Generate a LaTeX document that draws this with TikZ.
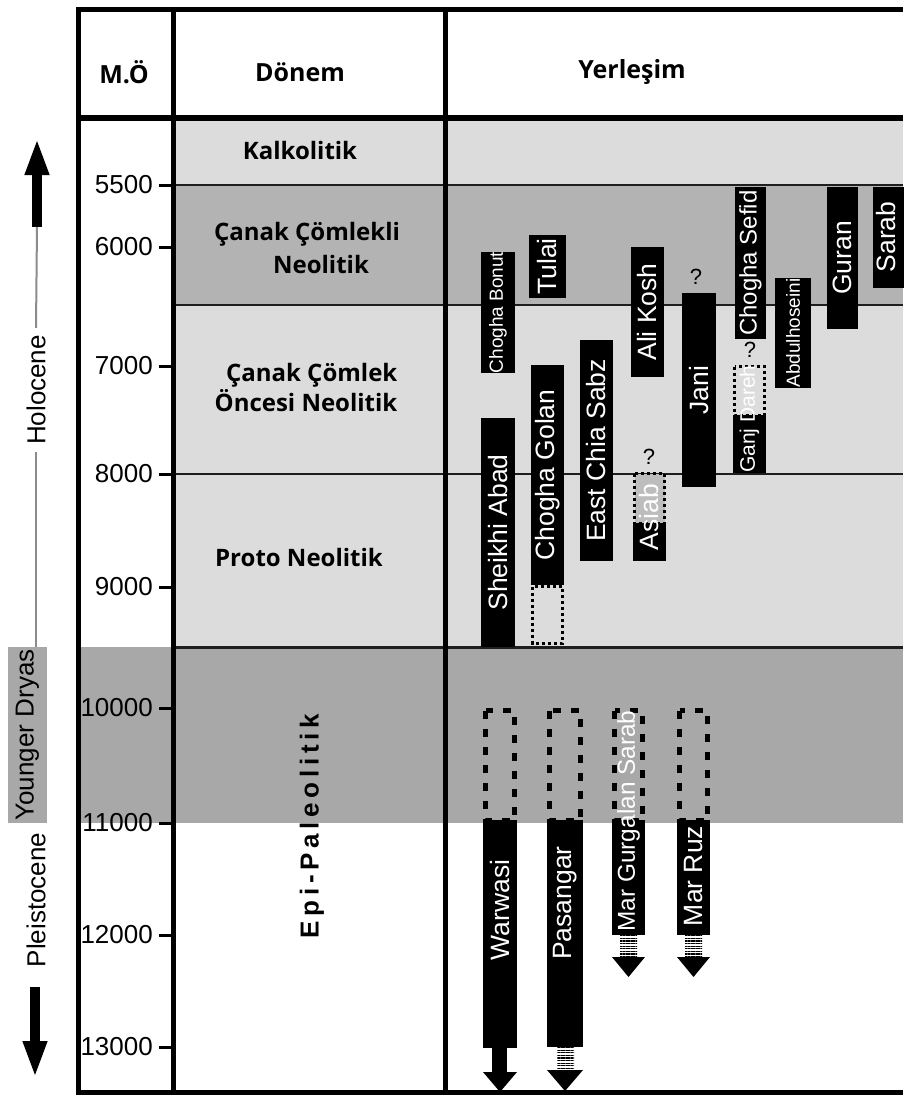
\documentclass[tikz,border=0pt]{standalone}
\usepackage{fontspec}
\setmainfont{Liberation Sans}
\newfontfamily\headfont{Open Sans}
\newfontfamily\epifont[LetterSpace=18]{Liberation Sans}
\usepackage{tikz}
\usetikzlibrary{arrows.meta,fit,patterns.meta}
\definecolor{lightc}{HTML}{DCDCDC}
\definecolor{midc}{HTML}{B3B3B3}
\definecolor{dryasc}{HTML}{A8A8A8}
\definecolor{asiabc}{HTML}{BDBDBD}
\definecolor{erac}{HTML}{8C8C8C}
\definecolor{linec}{HTML}{1E1E1E}
\newcommand\sitefont{\fontsize{26.5}{28}\selectfont}
\tikzset{
  frame/.style={draw=black,line width=5pt},
  period/.style={draw=linec,line width=2pt},
  tickmark/.style={draw=black,line width=3pt},
  ticklbl/.style={font=\fontsize{26}{28}\selectfont,anchor=east,inner sep=0pt},
  head/.style={font=\headfont\bfseries\fontsize{25}{28}\selectfont,inner sep=0pt},
  perlbl/.style={font=\headfont\bfseries\fontsize{24}{30}\selectfont,inner sep=0pt},
  era/.style={font=\fontsize{26}{28}\selectfont,rotate=90,inner sep=7pt},
  eraline/.style={draw=erac,line width=2pt},
  eraarrow/.style={draw=black,line width=10pt,-{Triangle[width=22pt,length=37pt]}},
  bar/.style={fill=black,inner sep=0pt,outer sep=0pt},
  sitelbl/.style={text=white,rotate=90,inner sep=0pt},
  dotbig/.style={draw=black,line width=5pt,dash pattern=on 8pt off 10pt},
  dotsmall/.style={draw=black,line width=3pt,dash pattern=on 3pt off 3pt},
  stripes/.style={pattern={Lines[angle=0,distance=2.6pt,line width=1.3pt]}},
  qmark/.style={font=\fontsize{22}{24}\selectfont,inner sep=0pt},
}
\begin{document}
\begin{tikzpicture}[x=1pt,y=-1pt]
  \useasboundingbox[fill=white] (0,0) rectangle (903,1097);
  % period bands
  \fill[lightc] (173,118) rectangle (903,185);
  \fill[midc] (173,185) rectangle (903,305);
  \fill[lightc] (173,305) rectangle (903,647);
  \fill[dryasc] (78,647) rectangle (903,823);
  \foreach \y in {185,305,474} \draw[period] (173,\y) -- (903,\y);
  \draw[period,line width=3pt] (173,647) -- (903,647);

  \foreach \n/\xa/\xb/\ya/\yb/\s/\t in {bonut/481/515/252/373/19/{Chogha Bonut},
      tulai/529/566/235/298/26.5/Tulai, shabad/481/515/418/647/26.5/{Sheikhi Abad},
      eastchia/580/613/340/561/26.5/{East Chia Sabz}, alikosh/631/664/247/377/26.5/{Ali Kosh},
      jani/682/716/293/487/26.5/Jani, chsefid/735/766/187/339/24/{Chogha Sefid},
      abdul/775/811/278/388/19/Abdulhoseini, guran/827/858/187/329/26.5/Guran}{
    \node[bar,fit={(\xa,\ya)(\xb,\yb)}] (\n) {};
    \node[sitelbl,font=\fontsize{\s}{\s}\selectfont] (l\n) at (\n) {\t};
  }
  \node[bar,fit={(873,187)(906,288)}] (sarab) {};
  \node[sitelbl,font=\sitefont] (lsarab) at (886,237) {Sarab};
  \node[bar,fit={(531,365)(564,585)}] (golan) {};
  \draw[dotsmall] (532.5,586.5) rectangle (562.5,643);
  \node[sitelbl,font=\sitefont] (lgolan) at (golan) {Chogha Golan};
  \node[bar,fit={(633,523)(666,561)}] (asiab) {};
  \draw[dotsmall,fill=asiabc] (634.5,473.5) rectangle (664.5,523);
  \node[sitelbl,font=\sitefont] (lasiab) at (649.5,517) {Asiab};
  \node[bar,fit={(733,415)(766,473)}] (ganj) {};
  \draw[dotsmall] (734.5,366.5) rectangle (764.5,415);
  \node[sitelbl,font=\fontsize{21}{21}\selectfont] (lganj) at (749.5,419) {Ganj Dareh};
  \node[qmark] (qasiab) at (649,457) {?};
  \node[qmark] (qjani) at (696,277) {?};
  \node[qmark] (qganj) at (750,350) {?};

  % Epi-Paleolitik sites
  \foreach \n/\xa/\xb/\yb/\ly/\s/\t in {warwasi/483/517/1048/910/26.5/Warwasi,
      pasangar/547/583/1047/903/26.5/Pasangar, margurg/612/645/935/821/24.4/{Mar Gurgalan Sarab},
      marruz/677/710/935/876/26.5/{Mar Ruz}}{
    \draw[dotbig] (\xa+2.5,710.5) rectangle (\xb-2.5,820);
    \node[bar,fit={(\xa,820)(\xb,\yb)}] (\n) {};
    \node[sitelbl,font=\fontsize{\s}{\s}\selectfont] (l\n) at ({(\xa+\xb)/2},\ly) {\t};
  }
  \fill (492,1048) rectangle (507,1072);
  \fill[stripes] (557,1047) rectangle (574,1070);
  \fill[stripes] (620,935) rectangle (637,957);
  \fill[stripes] (685,935) rectangle (702,957);
  \foreach \xa/\xb/\ya/\yb in {483/517/1072/1092, 547/583/1070/1091, 612/645/957/977, 677/710/957/977}
    \fill (\xa,\ya) -- (\xb,\ya) -- ({(\xa+\xb)/2},\yb) -- cycle;

  % table frame
  \draw[frame] (903,10) -- (78,10) -- (78,1092) -- (903,1092);
  \draw[frame,line width=6pt] (78,118) -- (903,118);
  \draw[frame] (173,10) -- (173,1092);
  \draw[frame] (445,10) -- (445,1092);
  \foreach \y/\t in {185/5500,247/6000,366/7000,474/8000,587/9000,708/10000,823/11000,935/12000,1047/13000}{
    \draw[tickmark] (159,\y) -- (173,\y);
    \node[ticklbl] (m\t) at (153,\y) {\t};
  }
  \node[head] (hmo) at (124,72) {M.Ö};
  \node[head] (hdonem) at (300,72) {Dönem};
  \node[head] (hyer) at (632,72) {Yerleşim};
  \node[perlbl] (pkalk) at (300,150) {Kalkolitik};
  \node[perlbl,align=center,font=\headfont\bfseries\fontsize{24}{33}\selectfont] (pcanak) at (307,248) {Çanak Çömlekli\\\hspace*{28pt}Neolitik};
  \node[perlbl,align=right] (ponce) at (306,387) {Çanak Çömlek\\Öncesi Neolitik};
  \node[perlbl] (pproto) at (299,557) {Proto Neolitik};
  \node[font=\epifont\bfseries\fontsize{26}{28}\selectfont,rotate=90,inner sep=0pt] (pepi) at (312,826) {Epi-Paleolitik};

  % epochs
  \coordinate (uptip) at (37,138);
  \coordinate (upbase) at (37,227);
  \coordinate (downbase) at (35,987);
  \coordinate (downtip) at (35,1078);
  \node[era] (holo) at (36,390) {Holocene};
  \node[era,fill=dryasc,minimum width=176pt,minimum height=39pt,inner sep=0pt] (dryas) at (27.5,735) {Younger Dryas};
  \node[era] (pleist) at (36,900) {Pleistocene};
  \draw[eraarrow] (upbase) -- (uptip);
  \draw[eraline] (upbase) -- (holo.east);
  \draw[eraline] (holo.west) -- (holo.west |- dryas.east);
  \draw[eraarrow] (downbase) -- (downtip);
\end{tikzpicture}
\end{document}
